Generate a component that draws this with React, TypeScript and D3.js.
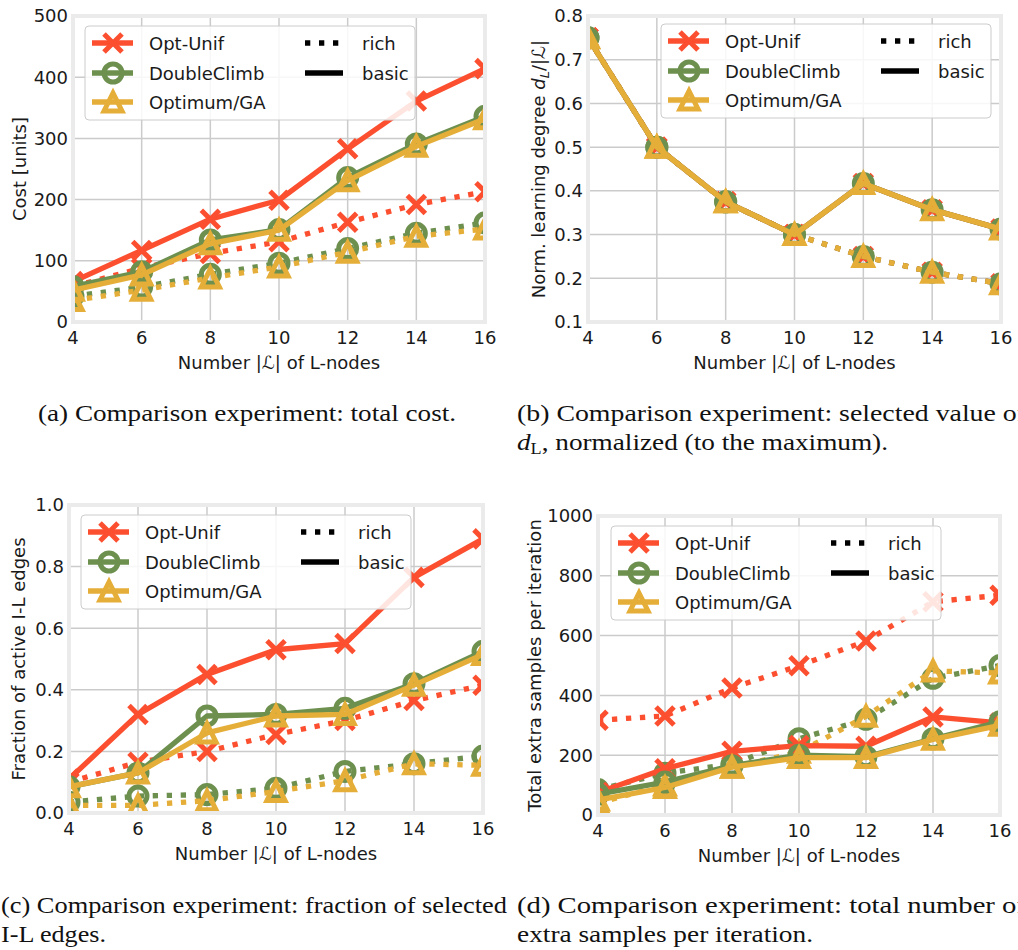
import React from "react";
import * as d3 from "d3";

// x values shared by all four panels
const nodeCounts = [4, 6, 8, 10, 12, 14, 16];

const algoNames = ["Opt-Unif", "DoubleClimb", "Optimum/GA"];
const algoColors = ["#fc4f30", "#6d904f", "#e5ae38"];
const algoMarkers = ["x", "o", "^"];
const styleNames = ["rich", "basic"];

// (a) total cost
const costUnifRich = [58, 88, 112, 131, 163, 192, 213];
const costClimbRich = [42, 57, 78, 96, 120, 145, 162];
const costGaRich = [35, 52, 72, 90, 114, 140, 152];
const costUnifBasic = [66, 117, 168, 199, 283, 361, 414];
const costClimbBasic = [58, 82, 134, 151, 236, 291, 336];
const costGaBasic = [52, 77, 128, 150, 231, 287, 332];

// (b) normalized learning degree
const degUnifRich = [0.75, 0.5, 0.375, 0.3, 0.25, 0.214, 0.1875];
const degClimbRich = [0.75, 0.5, 0.375, 0.3, 0.25, 0.214, 0.1875];
const degGaRich = [0.75, 0.5, 0.375, 0.3, 0.25, 0.214, 0.1875];
const degUnifBasic = [0.75, 0.5, 0.375, 0.3, 0.417, 0.357, 0.3125];
const degClimbBasic = [0.75, 0.5, 0.375, 0.3, 0.417, 0.357, 0.3125];
const degGaBasic = [0.75, 0.5, 0.375, 0.3, 0.417, 0.357, 0.3125];

// (c) fraction of active I-L edges
const fracUnifRich = [0.1, 0.165, 0.2, 0.255, 0.3, 0.365, 0.415];
const fracClimbRich = [0.035, 0.055, 0.06, 0.08, 0.135, 0.16, 0.185];
const fracGaRich = [0.025, 0.025, 0.04, 0.07, 0.105, 0.16, 0.155];
const fracUnifBasic = [0.11, 0.32, 0.45, 0.53, 0.55, 0.765, 0.89];
const fracClimbBasic = [0.085, 0.13, 0.315, 0.32, 0.34, 0.42, 0.525];
const fracGaBasic = [0.085, 0.13, 0.26, 0.315, 0.32, 0.415, 0.515];

// (d) total extra samples per iteration
const sampUnifRich = [317, 331, 425, 499, 582, 713, 735];
const sampClimbRich = [85, 140, 170, 255, 320, 457, 500];
const sampGaRich = [40, 100, 160, 210, 330, 482, 475];
const sampUnifBasic = [75, 155, 213, 232, 230, 328, 308];
const sampClimbBasic = [70, 110, 165, 200, 195, 255, 312];
const sampGaBasic = [50, 92, 160, 192, 192, 253, 300];

const costTicks = [0, 100, 200, 300, 400, 500];
const degTicks = [0.1, 0.2, 0.3, 0.4, 0.5, 0.6, 0.7, 0.8];
const fracTicks = [0, 0.2, 0.4, 0.6, 0.8, 1.0];
const sampTicks = [0, 200, 400, 600, 800, 1000];

const sansFont = "'DejaVu Sans', Verdana, sans-serif";
const serifFont = "'Liberation Serif', 'DejaVu Serif', serif";
const LW = 5.3;
const MS = 9;
const FS = 18;

const panels = [
  {
    key: "a", left: 73, right: 485, top: 16, bottom: 322,
    domain: [0, 500], ticks: costTicks, fmt: (d) => String(d),
    labelX: 26, legend: [85, 26],
    rich: [costUnifRich, costClimbRich, costGaRich],
    basic: [costUnifBasic, costClimbBasic, costGaBasic],
    ylabel: <>Cost [units]</>,
  },
  {
    key: "b", left: 588, right: 1001, top: 16, bottom: 322,
    domain: [0.1, 0.8], ticks: degTicks, fmt: d3.format(".1f"),
    labelX: 545, legend: [661, 24],
    rich: [degUnifRich, degClimbRich, degGaRich],
    basic: [degUnifBasic, degClimbBasic, degGaBasic],
    ylabel: (
      <>
        Norm. learning degree <tspan fontStyle="italic">d</tspan>
        <tspan fontStyle="italic" fontSize="13" dy="4">L</tspan>
        <tspan dy="-4">/|ℒ|</tspan>
      </>
    ),
  },
  {
    key: "c", left: 69, right: 483, top: 505, bottom: 813,
    domain: [0, 1], ticks: fracTicks, fmt: d3.format(".1f"),
    labelX: 25, legend: [81, 515],
    rich: [fracUnifRich, fracClimbRich, fracGaRich],
    basic: [fracUnifBasic, fracClimbBasic, fracGaBasic],
    ylabel: <>Fraction of active I-L edges</>,
  },
  {
    key: "d", left: 598, right: 1000, top: 516, bottom: 815,
    domain: [0, 1000], ticks: sampTicks, fmt: (d) => String(d),
    labelX: 541, legend: [611, 526],
    rich: [sampUnifRich, sampClimbRich, sampGaRich],
    basic: [sampUnifBasic, sampClimbBasic, sampGaBasic],
    ylabel: <>Total extra samples per iteration</>,
  },
];

function Marker({ kind, cx, cy, color }) {
  const common = { stroke: color, strokeWidth: 5, fill: "none" };
  if (kind === "x") {
    return (
      <path
        d={`M${cx - MS},${cy - MS}L${cx + MS},${cy + MS}M${cx - MS},${cy + MS}L${cx + MS},${cy - MS}`}
        {...common}
      />
    );
  }
  if (kind === "o") return <circle cx={cx} cy={cy} r={MS} {...common} />;
  return (
    <path
      d={`M${cx},${cy - MS}L${cx - MS},${cy + MS}L${cx + MS},${cy + MS}Z`}
      strokeLinejoin="miter"
      {...common}
    />
  );
}

function Legend({ x0, y0 }) {
  const rows = [17, 47, 76];
  return (
    <g>
      <rect x={x0} y={y0} width={330} height={94} rx={4} fill="#ffffff" fillOpacity={0.85} stroke="#cccccc" strokeWidth={1} />
      {algoNames.map((name, i) => (
        <g key={name}>
          <line x1={x0 + 7} x2={x0 + 48} y1={y0 + rows[i]} y2={y0 + rows[i]} stroke={algoColors[i]} strokeWidth={LW} />
          <Marker kind={algoMarkers[i]} cx={x0 + 28} cy={y0 + rows[i]} color={algoColors[i]} />
          <text x={x0 + 64} y={y0 + rows[i] + 6.5} fontSize={FS}>{name}</text>
        </g>
      ))}
      {styleNames.map((name, i) => (
        <g key={name}>
          <line
            x1={x0 + 220} x2={x0 + 258} y1={y0 + rows[i]} y2={y0 + rows[i]}
            stroke="#000" strokeWidth={LW}
            strokeDasharray={name === "rich" ? "5.3 8.7" : null}
          />
          <text x={x0 + 277} y={y0 + rows[i] + 6.5} fontSize={FS}>{name}</text>
        </g>
      ))}
    </g>
  );
}

function Panel({ p }) {
  const x = d3.scaleLinear().domain([4, 16]).range([p.left, p.right]);
  const y = d3.scaleLinear().domain(p.domain).range([p.bottom, p.top]);
  const line = d3.line().x((_, i) => x(nodeCounts[i])).y((d) => y(d));
  const clipId = `clip-${p.key}`;
  const layers = [
    ...p.rich.map((vals, i) => ({ vals, i, dash: "5.3 8.7" })),
    ...p.basic.map((vals, i) => ({ vals, i, dash: null })),
  ];
  return (
    <g fontFamily={sansFont} fill="#1a1a1a">
      <clipPath id={clipId}>
        <rect x={p.left} y={p.top} width={p.right - p.left} height={p.bottom - p.top} />
      </clipPath>
      {nodeCounts.map((n) => (
        <line key={n} x1={x(n)} x2={x(n)} y1={p.top} y2={p.bottom} stroke="#cbcbcb" strokeWidth={1.5} />
      ))}
      {p.ticks.map((t) => (
        <line key={t} x1={p.left} x2={p.right} y1={y(t)} y2={y(t)} stroke="#cbcbcb" strokeWidth={1.5} />
      ))}
      <g clipPath={`url(#${clipId})`}>
        {layers.map((l, k) => (
          <g key={k}>
            <path
              d={line(l.vals)}
              fill="none"
              stroke={algoColors[l.i]}
              strokeWidth={LW}
              strokeDasharray={l.dash}
              strokeLinejoin="round"
            />
            {l.vals.map((v, j) => (
              <Marker key={j} kind={algoMarkers[l.i]} cx={x(nodeCounts[j])} cy={y(v)} color={algoColors[l.i]} />
            ))}
          </g>
        ))}
      </g>
      <rect x={p.left} y={p.top} width={p.right - p.left} height={p.bottom - p.top} fill="none" stroke="#ebebeb" strokeWidth={4} />
      {p.ticks.map((t) => (
        <text key={t} x={p.left - 5} y={y(t)} dy="0.36em" textAnchor="end" fontSize={FS}>{p.fmt(t)}</text>
      ))}
      {nodeCounts.map((n) => (
        <text key={n} x={x(n)} y={p.bottom + 21.5} textAnchor="middle" fontSize={FS}>{n}</text>
      ))}
      <text x={(p.left + p.right) / 2} y={p.bottom + 46.5} textAnchor="middle" fontSize={FS}>
        Number |ℒ| of L-nodes
      </text>
      <text
        transform={`translate(${p.labelX},${(p.top + p.bottom) / 2}) rotate(-90)`}
        textAnchor="middle"
        fontSize={FS}
      >
        {p.ylabel}
      </text>
      <Legend x0={p.legend[0]} y0={p.legend[1]} />
    </g>
  );
}

export default function App() {
  return (
    <svg
      width={1018}
      height={950}
      style={{ position: "absolute", left: 0, top: 0, background: "#fff" }}
    >
      {panels.map((p) => (
        <Panel key={p.key} p={p} />
      ))}
      <g fontFamily={serifFont} fontSize={24} fill="#111">
        <text x={38} y={421} textLength={418} lengthAdjust="spacingAndGlyphs">
          (a) Comparison experiment: total cost.
        </text>
        <text x={517} y={421} textLength={509} lengthAdjust="spacingAndGlyphs">
          (b) Comparison experiment: selected value of
        </text>
        <text x={517} y={450} textLength={371} lengthAdjust="spacingAndGlyphs">
          <tspan fontStyle="italic">d</tspan>
          <tspan fontSize={16} dy={4}>L</tspan>
          <tspan dy={-4}>, normalized (to the maximum).</tspan>
        </text>
        <text x={1} y={913} textLength={506} lengthAdjust="spacingAndGlyphs">
          (c) Comparison experiment: fraction of selected
        </text>
        <text x={1} y={942} textLength={105} lengthAdjust="spacingAndGlyphs">
          I-L edges.
        </text>
        <text x={517} y={913} textLength={509} lengthAdjust="spacingAndGlyphs">
          (d) Comparison experiment: total number of
        </text>
        <text x={517} y={942} textLength={296} lengthAdjust="spacingAndGlyphs">
          extra samples per iteration.
        </text>
      </g>
    </svg>
  );
}
